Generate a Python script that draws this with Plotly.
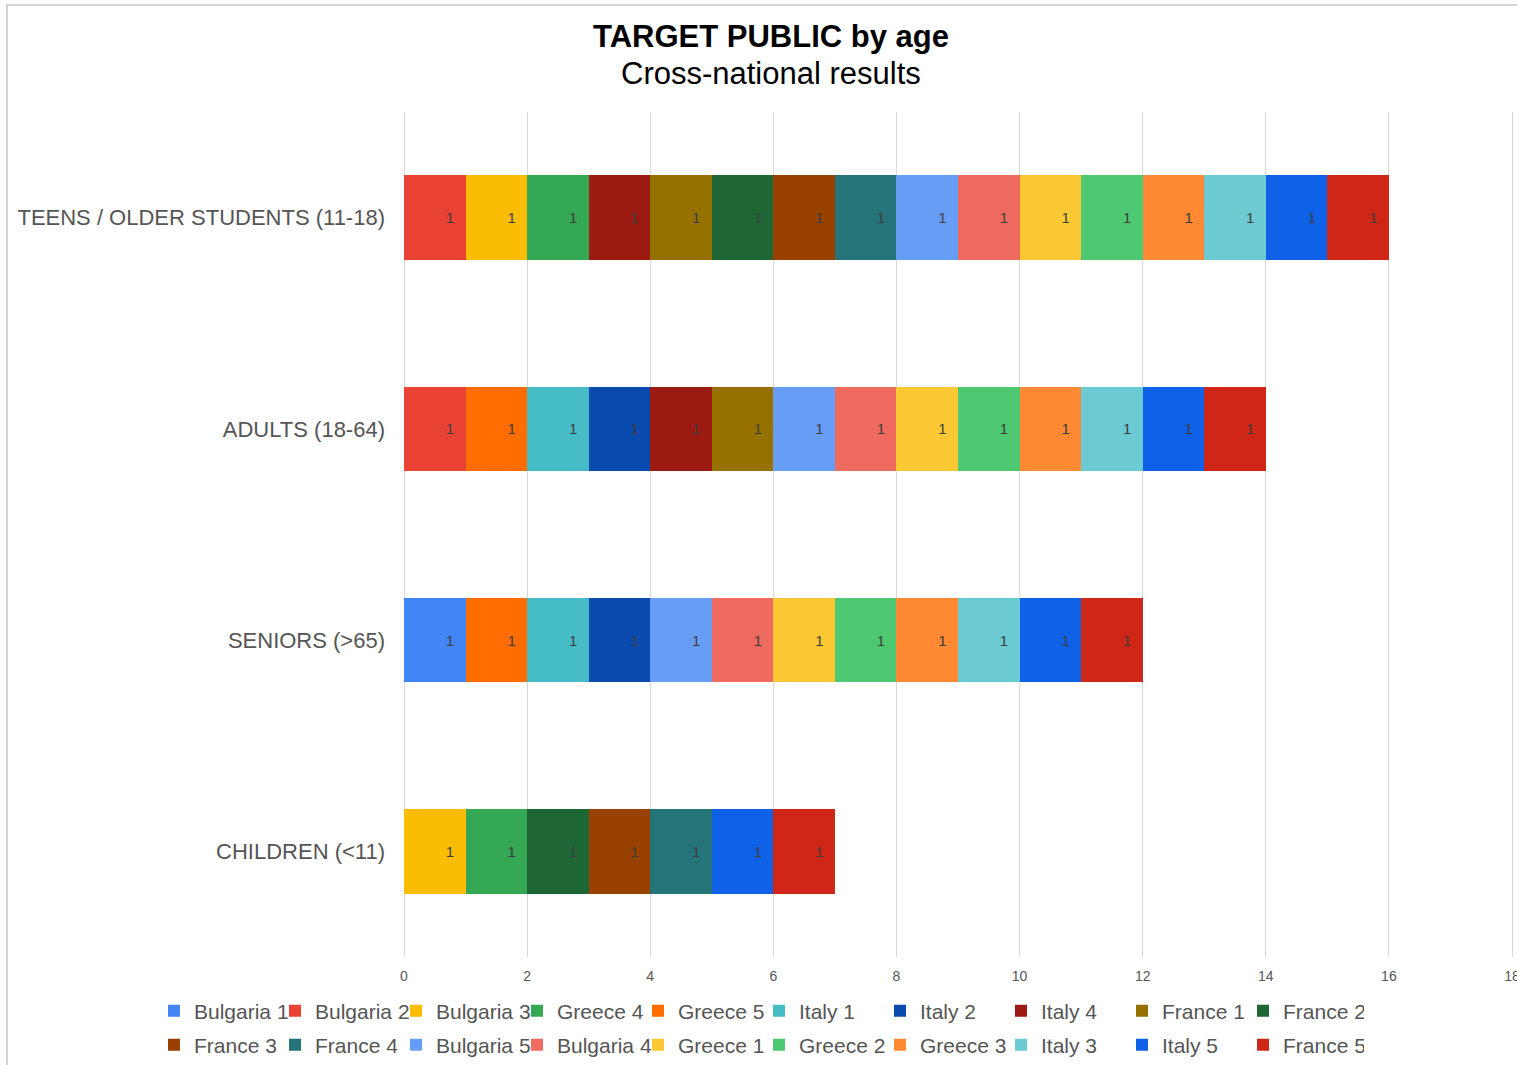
import plotly.graph_objects as go

# ---- data ----
categories = ["CHILDREN (<11)", "SENIORS (>65)", "ADULTS (18-64)", "TEENS / OLDER STUDENTS (11-18)"]

series_names = ["Bulgaria 1", "Bulgaria 2", "Bulgaria 3", "Greece 4", "Greece 5", "Italy 1",
                "Italy 2", "Italy 4", "France 1", "France 2",
                "France 3", "France 4", "Bulgaria 5", "Bulgaria 4", "Greece 1", "Greece 2",
                "Greece 3", "Italy 3", "Italy 5", "France 5"]

# values per category: [CHILDREN, SENIORS, ADULTS, TEENS]; None = not selected
bulgaria_1 = [None, 1, None, None]
bulgaria_2 = [None, None, 1, 1]
bulgaria_3 = [1, None, None, 1]
greece_4 = [1, None, None, 1]
greece_5 = [None, 1, 1, None]
italy_1 = [None, 1, 1, None]
italy_2 = [None, 1, 1, None]
italy_4 = [None, None, 1, 1]
france_1 = [None, None, 1, 1]
france_2 = [1, None, None, 1]
france_3 = [1, None, None, 1]
france_4 = [1, None, None, 1]
bulgaria_5 = [None, 1, 1, 1]
bulgaria_4 = [None, 1, 1, 1]
greece_1 = [None, 1, 1, 1]
greece_2 = [None, 1, 1, 1]
greece_3 = [None, 1, 1, 1]
italy_3 = [None, 1, 1, 1]
italy_5 = [1, 1, 1, 1]
france_5 = [1, 1, 1, 1]

series_values = [bulgaria_1, bulgaria_2, bulgaria_3, greece_4, greece_5, italy_1,
                 italy_2, italy_4, france_1, france_2,
                 france_3, france_4, bulgaria_5, bulgaria_4, greece_1, greece_2,
                 greece_3, italy_3, italy_5, france_5]

series_colors = ["#4285F4", "#EA4335", "#FBBC04", "#34A853", "#FF6D01", "#46BDC6",
                 "#0B4AAE", "#9B1B12", "#977100", "#1E6634",
                 "#994200", "#257479", "#689DF5", "#EF6B60", "#FCC934", "#4FC872",
                 "#FF8A33", "#6BCAD2", "#0F61E8", "#D02617"]

x_ticks = [0, 2, 4, 6, 8, 10, 12, 14, 16, 18]

# ---- layout geometry (pixels) ----
W, H = 1517, 1065
ML, MR, MT, MB = 404, 3, 112, 108
PW, PH = W - ML - MR, H - MT - MB
X_MAX = 18 * PW / (1512 - ML)   # so that 18 lands at pixel 1512


def px_x(px):
    return (px - ML) / PW


def px_y(py):
    return (H - MB - py) / PH


fig = go.Figure()
for i, (name, vals, col) in enumerate(zip(series_names, series_values, series_colors)):
    fig.add_trace(go.Bar(
        name=name,
        y=categories,
        x=vals,
        orientation="h",
        marker=dict(color=col, line=dict(width=0)),
        texttemplate="%{x}\u00a0\u00a0",
        textposition="inside",
        insidetextanchor="end",
        insidetextfont=dict(size=15, color="#3c3c3c"),
        legend="legend" if i < 10 else "legend2",
        hoverinfo="name+x",
    ))

legend_common = dict(
    orientation="h",
    x=px_x(154), xanchor="left",
    yanchor="middle",
    entrywidth=76, entrywidthmode="pixels",
    itemwidth=30,
    traceorder="normal",
    font=dict(size=21, color="#555555"),
    bgcolor="rgba(0,0,0,0)",
)

fig.update_layout(
    width=W, height=H,
    margin=dict(l=ML, r=MR, t=MT, b=MB, autoexpand=False),
    barmode="stack",
    bargap=0.6,
    paper_bgcolor="white",
    plot_bgcolor="white",
    font=dict(family="Liberation Sans, Arial, sans-serif", color="#555555"),
    showlegend=True,
    legend=dict(legend_common, y=px_y(1011)),
    legend2=dict(legend_common, y=px_y(1045)),
    xaxis=dict(
        range=[0, X_MAX],
        tickvals=x_ticks,
        ticktext=[str(v) for v in x_ticks],
        showgrid=True, gridcolor="#d9d9d9", gridwidth=1,
        zeroline=True, zerolinecolor="#d9d9d9", zerolinewidth=1,
        showline=False,
        ticks="",
        tickfont=dict(size=14, color="#555555"),
        ticklabelstandoff=9,
        ticklabeloverflow="allow",
        automargin=False,
    ),
    yaxis=dict(
        categoryorder="array", categoryarray=categories,
        showgrid=False, zeroline=False, showline=False,
        ticks="",
        tickfont=dict(size=22, color="#555555"),
        ticklabelstandoff=18,
        automargin=False,
    ),
    annotations=[
        dict(text="<b>TARGET PUBLIC by age</b>", xref="paper", yref="paper",
             x=px_x(771), y=px_y(37), xanchor="center", yanchor="middle",
             showarrow=False, font=dict(size=31, color="#000000")),
        dict(text="Cross-national results", xref="paper", yref="paper",
             x=px_x(771), y=px_y(74), xanchor="center", yanchor="middle",
             showarrow=False, font=dict(size=31, color="#000000")),
    ],
    shapes=[
        dict(type="rect", xref="paper", yref="paper",
             x0=px_x(7), x1=px_x(W + 20), y0=px_y(H + 20), y1=px_y(5),
             line=dict(color="#d3d3d3", width=2), fillcolor="rgba(0,0,0,0)",
             layer="below"),
    ],
)

fig.write_html("out.html", post_script="document.body.style.margin='0';",
               config={"displayModeBar": False})
